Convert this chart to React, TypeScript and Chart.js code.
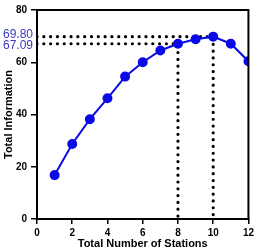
import React, { useEffect, useRef } from "react";
import { Chart, registerables } from "chart.js";

Chart.register(...registerables);

const stations = [1, 2, 3, 4, 5, 6, 7, 8, 9, 10, 11, 12];
const information = [16.8, 28.7, 38.2, 46.2, 54.5, 60.0, 64.5, 67.09, 68.8, 69.8, 67.1, 60.4];
const markStations = [10, 8];
const markValues = [69.8, 67.09];
const markLabels = ["69.80", "67.09"];
const xTicks = [0, 2, 4, 6, 8, 10, 12];
const yTicks = [0, 20, 40, 60, 80];

const BLUE = "#0a0ae6";
const LABEL_BLUE = "#3b3bc0";

export default function App() {
  const ref = useRef<HTMLCanvasElement>(null);
  useEffect(() => {
    document.body.style.margin = "0";
    const canvas = ref.current!;
    const guides = markStations.map((s, i) => ({
      label: "guide" + i,
      data: [
        { x: 0, y: markValues[i] },
        { x: s, y: markValues[i] },
        { x: s, y: 0 },
      ],
      borderColor: "#000",
      borderWidth: 3.2,
      borderDash: [0.01, 6.8],
      borderCapStyle: "round" as const,
      pointRadius: 0,
      fill: false,
      order: 2,
    }));
    const labelPlugin = {
      id: "markLabels",
      afterDraw(chart: any) {
        const ctx = chart.ctx;
        const y = chart.scales.y;
        ctx.save();
        ctx.font = "12px Arial, 'Liberation Sans', sans-serif";
        ctx.fillStyle = LABEL_BLUE;
        ctx.textAlign = "right";
        ctx.textBaseline = "middle";
        const offs = [-2, 2];
        markValues.forEach((v, i) => {
          ctx.fillText(markLabels[i], 33, y.getPixelForValue(v) + offs[i]);
        });
        ctx.restore();
      },
    };
    const frame = {
      id: "frame",
      afterDatasetsDraw(chart: any) {
        const { left, right, top, bottom } = chart.chartArea;
        const ctx = chart.ctx;
        ctx.save();
        ctx.strokeStyle = "#000";
        ctx.lineWidth = 2;
        ctx.strokeRect(left, top, right - left, bottom - top);
        ctx.restore();
      },
    };
    const chart = new Chart(canvas, {
      type: "line",
      data: {
        datasets: [
          {
            label: "Total Information",
            data: stations.map((s, i) => ({ x: s, y: information[i] })),
            borderColor: BLUE,
            backgroundColor: BLUE,
            borderWidth: 2,
            pointRadius: 4,
            pointBackgroundColor: BLUE,
            pointBorderColor: BLUE,
            fill: false,
            order: 1,
          },
          ...guides,
        ],
      },
      options: {
        animation: false,
        responsive: false,
        devicePixelRatio: 1,
        layout: { padding: { top: 6, right: 8, left: 0, bottom: 0 } },
        plugins: { legend: { display: false }, tooltip: { enabled: false } },
        scales: {
          x: {
            type: "linear",
            min: 0,
            max: 12,
            afterBuildTicks: (s: any) => {
              s.ticks = xTicks.map((v) => ({ value: v }));
            },
            afterFit: (s: any) => {
              s.height = 32;
            },
            grid: {
              display: true,
              drawOnChartArea: false,
              drawTicks: true,
              tickLength: 5,
              color: "#000",
              lineWidth: 1.5,
            },
            border: { display: true, color: "#000", width: 2 },
            ticks: {
              color: "#000",
              padding: 3,
              maxRotation: 0,
              font: { family: "Arial, 'Liberation Sans', sans-serif", size: 10, weight: "bold" },
            },
            title: {
              display: true,
              text: "Total Number of Stations",
              color: "#000",
              padding: { top: 0, bottom: 0 },
              font: { family: "Arial, 'Liberation Sans', sans-serif", size: 11, weight: "bold" },
            },
          },
          y: {
            type: "linear",
            min: 0,
            max: 80,
            afterBuildTicks: (s: any) => {
              s.ticks = yTicks.map((v) => ({ value: v }));
            },
            afterFit: (s: any) => {
              s.width = 37;
            },
            grid: {
              display: true,
              drawOnChartArea: false,
              drawTicks: true,
              tickLength: 6,
              color: "#000",
              lineWidth: 1.5,
            },
            border: { display: true, color: "#000", width: 2 },
            ticks: {
              color: "#000",
              padding: 4,
              font: { family: "Arial, 'Liberation Sans', sans-serif", size: 10, weight: "bold" },
            },
            title: {
              display: true,
              text: "Total Information",
              color: "#000",
              padding: { top: 2, bottom: 0 },
              font: { family: "Arial, 'Liberation Sans', sans-serif", size: 11, weight: "bold" },
            },
          },
        },
      },
      plugins: [labelPlugin, frame],
    });
    return () => chart.destroy();
  }, []);
  return <canvas ref={ref} width={257} height={251} style={{ display: "block" }} />;
}
